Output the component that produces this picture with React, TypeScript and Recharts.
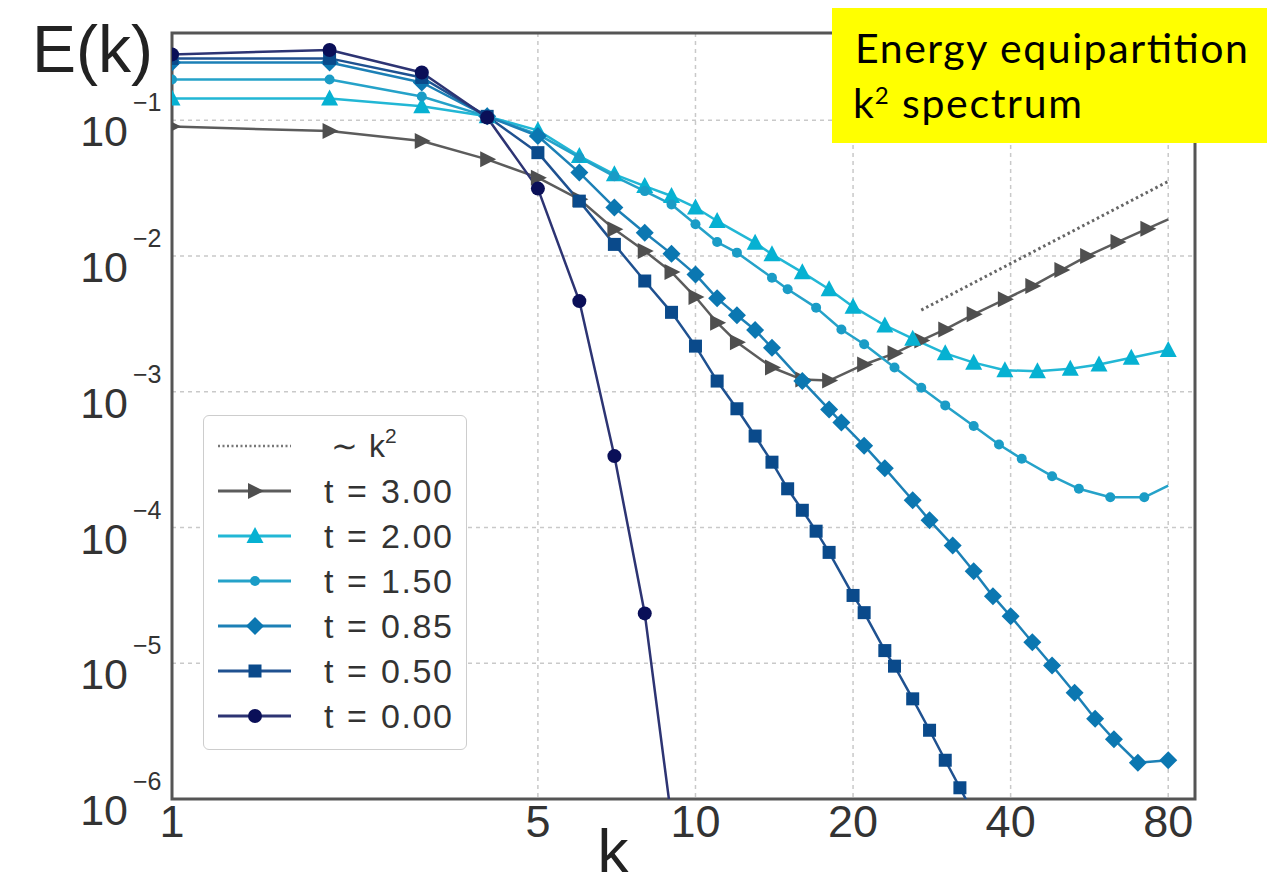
import { LineChart, Line, XAxis, YAxis, CartesianGrid, ReferenceArea, Legend, Label } from 'recharts'

const FONT = '"Liberation Sans", Arial, Helvetica, sans-serif'
const BOX_FONT = "Lato, 'Open Sans', sans-serif"

// axis ticks
const X_TICKS = [1, 5, 10, 20, 40, 80]
const Y_TICKS = [1e-6, 1e-5, 1e-4, 1e-3, 1e-2, 1e-1]

// t = 0.00
const K_T000 = [1, 2, 3, 4, 5, 6, 7, 8, 9]
const E_T000 = [0.306, 0.33, 0.225, 0.105, 0.0314, 0.00466, 3.36e-4, 2.33e-5, 7.1e-7]

// t = 0.50
const K_T050 = [1, 2, 3, 4, 5, 6, 7, 8, 9, 10, 11, 12, 13, 14, 15, 16, 17, 18, 20, 21, 23, 24, 26, 28, 30, 32, 34]
const E_T050 = [
  0.286, 0.286, 0.207, 0.107, 0.0578, 0.0254, 0.01219, 6.55e-3, 3.85e-3, 2.17e-3, 1.2e-3, 7.5e-4, 4.72e-4,
  3.03e-4, 1.93e-4, 1.34e-4, 9.4e-5, 6.56e-5, 3.16e-5, 2.36e-5, 1.24e-5, 9.52e-6, 5.47e-6, 3.21e-6, 1.93e-6,
  1.21e-6, 7.7e-7,
]

// t = 0.85
const K_T085 = [1, 2, 3, 4, 5, 6, 7, 8, 9, 10, 11, 12, 13, 14, 16, 18, 19, 21, 23, 26, 28, 31, 34, 37, 40, 44, 48, 53, 58, 63, 70, 80]
const E_T085 = [
  0.267, 0.267, 0.19, 0.107, 0.0766, 0.0412, 0.0228, 0.01486, 0.01038, 7.33e-3, 4.88e-3, 3.66e-3, 2.85e-3,
  2.11e-3, 1.2e-3, 7.41e-4, 5.95e-4, 4.01e-4, 2.73e-4, 1.59e-4, 1.13e-4, 7.38e-5, 4.77e-5, 3.12e-5, 2.22e-5,
  1.43e-5, 9.63e-6, 6.07e-6, 3.9e-6, 2.75e-6, 1.85e-6, 1.93e-6,
]

// t = 1.50
const K_T150 = [1, 2, 3, 4, 5, 6, 7, 8, 9, 10, 11, 12, 14, 15, 17, 19, 21, 24, 27, 30, 34, 38, 42, 48, 54, 62, 72, 80]
const E_T150 = [
  0.2, 0.2, 0.15, 0.107, 0.0789, 0.0533, 0.0387, 0.0301, 0.024, 0.01714, 0.01268, 0.0106, 6.93e-3, 5.69e-3,
  4.17e-3, 2.88e-3, 2.24e-3, 1.51e-3, 1.07e-3, 7.94e-4, 5.59e-4, 4.09e-4, 3.21e-4, 2.39e-4, 1.93e-4, 1.67e-4,
  1.67e-4, 2.04e-4,
]

// t = 2.00
const K_T200 = [1, 2, 3, 4, 5, 6, 7, 8, 9, 10, 11, 13, 14, 16, 18, 20, 23, 26, 30, 34, 39, 45, 52, 59, 68, 80]
const E_T200 = [
  0.145, 0.145, 0.127, 0.107, 0.0844, 0.0546, 0.04, 0.0328, 0.0277, 0.0228, 0.01811, 0.01256, 0.0103, 7.59e-3,
  5.69e-3, 4.24e-3, 3.08e-3, 2.46e-3, 1.92e-3, 1.64e-3, 1.44e-3, 1.42e-3, 1.48e-3, 1.59e-3, 1.78e-3, 2.03e-3,
]

// t = 3.00
const K_T300 = [1, 2, 3, 4, 5, 6, 7, 8, 9, 10, 11, 12, 14, 16, 18, 21, 24, 27, 30, 34, 39, 44, 50, 56, 64, 73, 80]
const E_T300 = [
  0.0899, 0.0834, 0.0704, 0.0516, 0.0378, 0.0262, 0.01574, 0.01089, 7.62e-3, 4.99e-3, 3.23e-3, 2.32e-3, 1.51e-3,
  1.23e-3, 1.21e-3, 1.59e-3, 1.92e-3, 2.39e-3, 2.88e-3, 3.72e-3, 4.8e-3, 6.01e-3, 7.89e-3, 0.01, 0.01268,
  0.01592, 0.01862,
]

// ~k^2 guide line
const K_GUIDE = [27, 80]
const E_GUIDE = [0.004, 0.0355]

const toRows = (ks: number[], es: number[]) => ks.map((k, i) => ({ k, E: es[i] }))

type Shape = 'right' | 'up' | 'dot' | 'diamond' | 'square' | 'circle'

const SERIES: { name: string; value: string; rows: { k: number; E: number }[]; line: string; fill: string; shape: Shape; endDot: boolean }[] = [
  { name: 't3', value: '3.00', rows: toRows(K_T300, E_T300), line: '#5c5c5c', fill: '#4f4f4f', shape: 'right', endDot: false },
  { name: 't2', value: '2.00', rows: toRows(K_T200, E_T200), line: '#22b7d5', fill: '#06b1d2', shape: 'up', endDot: true },
  { name: 't15', value: '1.50', rows: toRows(K_T150, E_T150), line: '#25a2c9', fill: '#1a9cc6', shape: 'dot', endDot: false },
  { name: 't085', value: '0.85', rows: toRows(K_T085, E_T085), line: '#1c80b6', fill: '#0b77b1', shape: 'diamond', endDot: true },
  { name: 't05', value: '0.50', rows: toRows(K_T050, E_T050), line: '#1f5190', fill: '#0a4a8b', shape: 'square', endDot: true },
  { name: 't0', value: '0.00', rows: toRows(K_T000, E_T000), line: '#2d3473', fill: '#0a0f58', shape: 'circle', endDot: true },
]

function Marker({ shape, cx, cy, fill }: { shape: Shape; cx: number; cy: number; fill: string }) {
  if (shape === 'right') return <polygon points={`${cx - 7},${cy - 8} ${cx + 9},${cy} ${cx - 7},${cy + 8}`} fill={fill} />
  if (shape === 'up') return <polygon points={`${cx},${cy - 9} ${cx + 8.5},${cy + 7} ${cx - 8.5},${cy + 7}`} fill={fill} />
  if (shape === 'dot') return <circle cx={cx} cy={cy} r={5} fill={fill} />
  if (shape === 'diamond') return <polygon points={`${cx},${cy - 9} ${cx + 9},${cy} ${cx},${cy + 9} ${cx - 9},${cy}`} fill={fill} />
  if (shape === 'square') return <rect x={cx - 6.5} y={cy - 6.5} width={13} height={13} fill={fill} />
  return <circle cx={cx} cy={cy} r={7} fill={fill} />
}

function YTick({ x, y, payload }: any) {
  const exp = Math.round(Math.log10(payload.value))
  return (
    <g fontFamily={FONT} fill="#333">
      <text x={x - 44} y={y + 26} textAnchor="end" fontSize={43}>10</text>
      <text x={x - 39} y={y - 9} fontSize={25}>{'\u2212' + Math.abs(exp)}</text>
    </g>
  )
}

function XTick({ x, y, payload }: any) {
  return (
    <text x={x} y={y + 38} textAnchor="middle" fontSize={45} fontFamily={FONT} fill="#333">
      {payload.value}
    </text>
  )
}

function LegendBox() {
  const rowY = (i: number) => 30 + i * 45
  return (
    <div style={{ width: 264, height: 335, border: '1.5px solid #cdcdcd', borderRadius: 6, background: '#fff', boxSizing: 'border-box' }}>
      <svg width={262} height={332} style={{ display: 'block' }} fontFamily={FONT}>
        <line x1={14} x2={87} y1={rowY(0)} y2={rowY(0)} stroke="#777" strokeWidth={2.5} strokeDasharray="2 2.5" />
        <text x={127} y={rowY(0) + 11} fontSize={32} fill="#333">
          {'\u223C'}
          <tspan x={165}>k</tspan>
          <tspan dy={-14} fontSize={21}>2</tspan>
        </text>
        {SERIES.map((s, i) => (
          <g key={s.name}>
            <line x1={14} x2={87} y1={rowY(i + 1)} y2={rowY(i + 1)} stroke={s.line} strokeWidth={3} />
            <Marker shape={s.shape} cx={51} cy={rowY(i + 1)} fill={s.fill} />
            <text y={rowY(i + 1) + 12} fontSize={34} fill="#333">
              <tspan x={120}>t</tspan>
              <tspan x={143}>=</tspan>
              <tspan x={177} textLength={71}>{s.value}</tspan>
            </text>
          </g>
        ))}
      </svg>
    </div>
  )
}

export default function App() {
  return (
    <div style={{ position: 'absolute', left: 0, top: 0, width: 1267, height: 887, background: '#fff' }}>
      <LineChart width={1267} height={887} margin={{ top: 33, right: 72, bottom: 0, left: 0 }}>
        <CartesianGrid stroke="#c9c9c9" strokeWidth={1.5} strokeDasharray="4 4" />
        <XAxis
          dataKey="k"
          type="number"
          scale="log"
          domain={[1, 90]}
          allowDataOverflow
          ticks={X_TICKS}
          tick={<XTick />}
          tickSize={0}
          tickMargin={0}
          axisLine={false}
          tickLine={false}
          height={88}
        >
          <Label
            content={({ viewBox }: any) => (
              <text x={viewBox.x + 441} y={viewBox.y + 73} textAnchor="middle" fontSize={62} fontFamily={FONT} fill="#222">
                k
              </text>
            )}
          />
        </XAxis>
        <YAxis
          dataKey="E"
          type="number"
          scale="log"
          domain={[1e-6, 0.44]}
          allowDataOverflow
          ticks={Y_TICKS}
          tick={<YTick />}
          tickSize={0}
          tickMargin={0}
          axisLine={false}
          tickLine={false}
          width={172}
        >
          <Label
            content={({ viewBox }: any) => (
              <text x={viewBox.x + 32} y={viewBox.y + 39} fontSize={66} fontFamily={FONT} fill="#222">
                E(k)
              </text>
            )}
          />
        </YAxis>
        <Line
          data={toRows(K_GUIDE, E_GUIDE)}
          dataKey="E"
          stroke="#666"
          strokeWidth={3}
          strokeDasharray="2.5 3"
          dot={false}
          isAnimationActive={false}
        />
        {SERIES.map((s) => (
          <Line
            key={s.name}
            data={s.rows}
            dataKey="E"
            type="linear"
            stroke={s.line}
            strokeWidth={2.5}
            strokeLinejoin="round"
            isAnimationActive={false}
            dot={(p: any) =>
              !s.endDot && p.index === s.rows.length - 1 ? (
                <g key={`${s.name}-${p.index}`} />
              ) : (
                <Marker key={`${s.name}-${p.index}`} shape={s.shape} cx={p.cx} cy={p.cy} fill={s.fill} />
              )
            }
            activeDot={false}
          />
        ))}
        <ReferenceArea x1={1} x2={90} y1={1e-6} y2={0.44} fill="none" stroke="#555" strokeWidth={3} ifOverflow="visible" />
        <Legend
          verticalAlign="middle"
          align="center"
          content={() => <LegendBox />}
          wrapperStyle={{ left: 203, top: 415, width: 264, height: 335 }}
        />
      </LineChart>
      <svg width={435} height={135} style={{ position: 'absolute', left: 832, top: 8 }}>
        <rect width={435} height={135} fill="#ffff00" />
        <text x={23} y={55} fontSize={41} fontFamily={BOX_FONT} fill="#000" textLength={393} lengthAdjust="spacing">
          Energy equipartition
        </text>
        <text x={21} y={110} fontSize={41} fontFamily={BOX_FONT} fill="#000">
          k
          <tspan dx={1} dy={-14} fontSize={24}>2</tspan>
          <tspan x={70} dy={14} textLength={180} lengthAdjust="spacing">spectrum</tspan>
        </text>
      </svg>
    </div>
  )
}
